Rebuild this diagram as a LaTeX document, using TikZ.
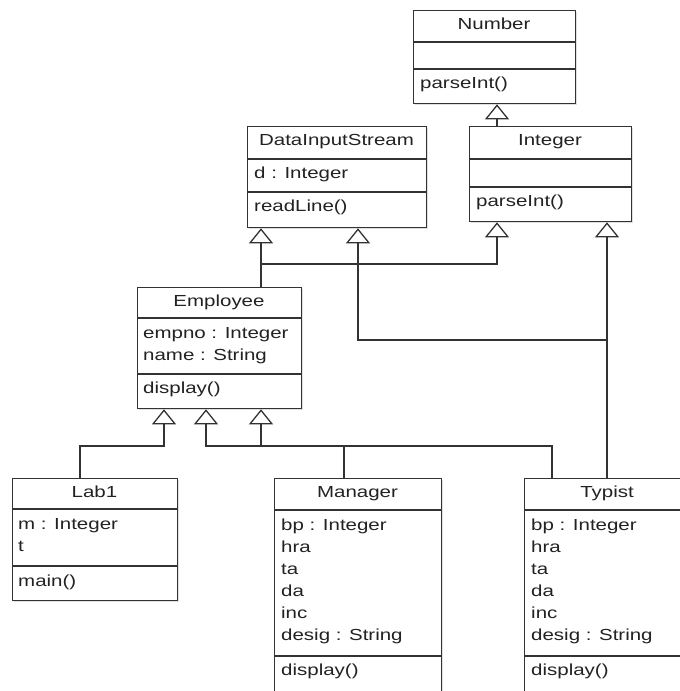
\documentclass[tikz,border=0pt]{standalone}
\usepackage{fontspec}
\setmainfont{Liberation Sans}[FakeStretch=1.28]
\usetikzlibrary{arrows.meta,shadows}
\definecolor{ink}{HTML}{333333}
\definecolor{tink}{HTML}{222222}
\begin{document}
\begin{tikzpicture}[x=1pt,y=-1pt,
  cls/.style={draw=ink, line width=1.3pt, fill=white, inner sep=0pt, anchor=north west,
    drop shadow={shadow xshift=1.2pt, shadow yshift=-1.2pt, opacity=0.25}},
  sep/.style={draw=ink, line width=1.3pt},
  ttl/.style={anchor=base, inner sep=0pt, text=tink, font=\fontsize{16pt}{22pt}\selectfont},
  txt/.style={anchor=base west, inner sep=0pt, text=tink, font=\fontsize{16pt}{22pt}\selectfont},
  inh/.style={draw=ink, line width=1.3pt, -{Triangle[open, length=15pt, width=24pt]}}]
\clip (0,0) rectangle (680,691);
\useasboundingbox (0,0) rectangle (680,691);

% ---------- classes ----------
% Number
\node[cls, minimum width=162pt, minimum height=93pt] (num) at (413,10) {};
\draw[sep] (413,42) -- (575,42);
\draw[sep] (413,69) -- (575,69);
\node[ttl] (numt) at (494,29) {Number};
\node[txt] (numm) at (420,88) {parseInt()};

% Integer
\node[cls, minimum width=162pt, minimum height=95pt] (int) at (469,126) {};
\draw[sep] (469,159) -- (631,159);
\draw[sep] (469,187) -- (631,187);
\node[ttl] (intt) at (550,145) {Integer};
\node[txt] (intm) at (476,206) {parseInt()};

% DataInputStream
\node[cls, minimum width=179pt, minimum height=101pt] (dis) at (247,126) {};
\draw[sep] (247,159) -- (426,159);
\draw[sep] (247,192) -- (426,192);
\node[ttl] (dist) at (336.5,145) {DataInputStream};
\node[txt] (disa) at (254,178) {d : Integer};
\node[txt] (dism) at (254,211) {readLine()};

% Employee
\node[cls, minimum width=164pt, minimum height=121pt] (emp) at (137,287) {};
\draw[sep] (137,318) -- (301,318);
\draw[sep] (137,374) -- (301,374);
\node[ttl] (empt) at (219,306) {Employee};
\node[txt] (empa1) at (143,338) {empno : Integer};
\node[txt] (empa2) at (143,360) {name : String};
\node[txt] (empm) at (143,393) {display()};

% Lab1
\node[cls, minimum width=165pt, minimum height=122pt] (lab) at (12,478) {};
\draw[sep] (12,509) -- (177,509);
\draw[sep] (12,566) -- (177,566);
\node[ttl] (labt) at (94.5,497) {Lab1};
\node[txt] (laba1) at (18,529) {m : Integer};
\node[txt] (laba2) at (18,551) {t};
\node[txt] (labm) at (18,586) {main()};

% Manager
\node[cls, minimum width=167pt, minimum height=240pt] (man) at (274,478) {};
\draw[sep] (274,510) -- (441,510);
\draw[sep] (274,656) -- (441,656);
\node[ttl] (mant) at (357.5,497) {Manager};
\foreach \t [count=\i] in {bp : Integer, hra, ta, da, inc, desig : String}
  \node[txt] (mana\i) at (281,{530+22*(\i-1)}) {\t};
\node[txt] (manm) at (281,675) {display()};

% Typist
\node[cls, minimum width=166pt, minimum height=240pt] (typ) at (524,478) {};
\draw[sep] (524,510) -- (690,510);
\draw[sep] (524,656) -- (690,656);
\node[ttl] (typt) at (607,497) {Typist};
\foreach \t [count=\i] in {bp : Integer, hra, ta, da, inc, desig : String}
  \node[txt] (typa\i) at (531,{530+22*(\i-1)}) {\t};
\node[txt] (typm) at (531,675) {display()};

% ---------- junction points ----------
\coordinate (a) at (497,0);
\coordinate (b) at (261,0);
\coordinate (j1) at (261,264);
\coordinate (j2) at (497,264);
\coordinate (j3) at (607,340);
\coordinate (j4) at (358,340);
\coordinate (k1) at (80,446);
\coordinate (k2) at (164,446);
\coordinate (k3) at (344,446);
\coordinate (k4) at (261,446);
\coordinate (k5) at (552,446);
\coordinate (k6) at (206,446);

% ---------- generalisations ----------
\draw[inh] (int.north -| a) -- (num.south -| a);
\draw[inh] (emp.north -| b) -- (dis.south -| b);
\draw[inh] (emp.north -| j1) -- (j1) -- (j2) -- (int.south -| j2);
\draw[inh] (typ.north -| j3) -- (j3) -- (j4) -- (dis.south -| j4);
\draw[inh] (typ.north -| j3) -- (int.south -| j3);
\draw[inh] (lab.north -| k1) -- (k1) -- (k2) -- (emp.south -| k2);
\draw[inh] (man.north -| k3) -- (k3) -- (k4) -- (emp.south -| k4);
\draw[inh] (typ.north -| k5) -- (k5) -- (k6) -- (emp.south -| k6);
\end{tikzpicture}
\end{document}
